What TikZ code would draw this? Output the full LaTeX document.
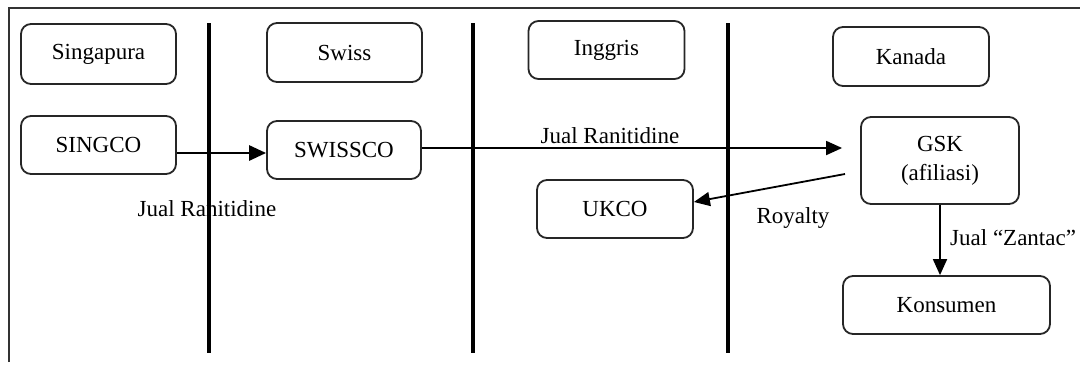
\documentclass[tikz,border=0pt]{standalone}
\usepackage{fontspec}
\setmainfont{Liberation Serif}
\usetikzlibrary{arrows.meta,calc}
\begin{document}
\begin{tikzpicture}[x=1pt,y=-1pt,
  box/.style={draw=black!85,line width=1.8pt,rounded corners=10pt,inner sep=0pt,align=center,font=\fontsize{23}{29}\selectfont},
  lbl/.style={inner sep=0pt,font=\fontsize{23}{29}\selectfont},
  lane/.style={line width=4pt},
  flow/.style={line width=1.8pt,-{Triangle[length=16pt,width=14pt]}}]
\useasboundingbox (0,0) rectangle (1080,365);
% frame
\draw[line width=1.6pt,black!80] (9,362) -- (9,8) -- (1080,8);
% lanes
\draw[lane] (209,23) -- (209,353);
\draw[lane] (473,23) -- (473,353);
\draw[lane] (728,23) -- (728,353);
% boxes
\node[box,minimum width=155pt,minimum height=60pt] (sg) at (98.5,54) {Singapura};
\node[box,minimum width=155pt,minimum height=59pt] (sw) at (344.5,52.5) {Swiss};
\node[box,minimum width=156pt,minimum height=58pt] (en) at (606.5,50) {Inggris};
\node[box,minimum width=156pt,minimum height=59pt] (ca) at (911,56.5) {Kanada};
\node[box,minimum width=155pt,minimum height=58pt] (singco) at (98.5,145) {SINGCO};
\node[box,minimum width=154pt,minimum height=58pt] (swissco) at (344,150) {SWISSCO};
\node[box,minimum width=158pt,minimum height=87pt] (gsk) at (940,160.5) {GSK\\(afiliasi)};
\node[box,minimum width=156pt,minimum height=58pt] (ukco) at (615,209) {UKCO};
\node[box,minimum width=207pt,minimum height=58pt] (kons) at (946.5,305) {Konsumen};
% connectors
\draw[flow,line width=2.8pt,-{Triangle[length=17pt,width=15pt]}] (singco.east |- 0,153) -- (swissco.west |- 0,153);
\draw[flow,shorten >=18pt] (swissco.east |- 0,148) -- (gsk.west |- 0,148);
\coordinate (r0) at (845,174);
\draw[flow] (r0) -- ([yshift=7pt]ukco.east);
\draw[flow] (gsk.south) -- (gsk.south |- kons.north);
% labels
\node[lbl] (l1) at (207,209) {Jual Ranitidine};
\node[lbl] (l2) at (610,136) {Jual Ranitidine};
\node[lbl] (l3) at (793,218) {Royalty};
\node[lbl,anchor=west] (l4) at (950,238) {Jual “Zantac”};
\end{tikzpicture}
\end{document}
